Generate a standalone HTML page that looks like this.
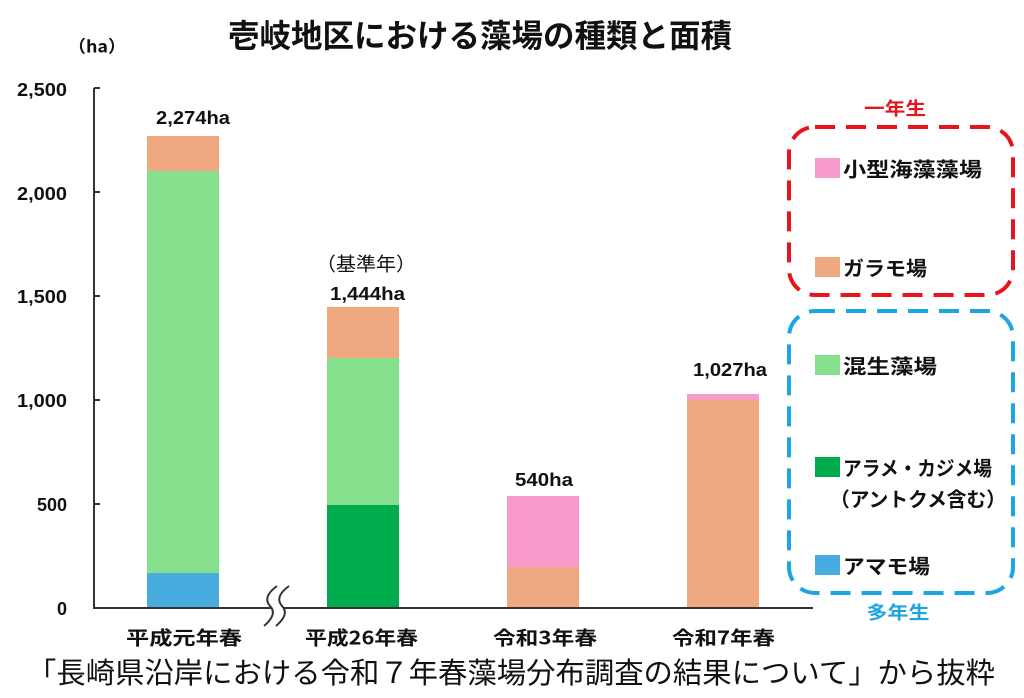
<!DOCTYPE html>
<html><head><meta charset="utf-8"><style>
html,body{margin:0;padding:0;background:#fff;}
svg{display:block;}
text{font-family:"Liberation Sans","Noto Sans CJK JP",sans-serif;}
.jp{font-family:"Noto Sans CJK JP","Liberation Sans",sans-serif;}
</style></head><body>
<svg width="1024" height="698" viewBox="0 0 1024 698" xmlns="http://www.w3.org/2000/svg">
<rect width="1024" height="698" fill="#fff"/>
<!-- title -->
<text class="jp" x="228" y="34" font-size="32" font-weight="700" fill="#111" dominant-baseline="central" textLength="504" lengthAdjust="spacingAndGlyphs">壱岐地区における藻場の種類と面積</text>
<!-- unit -->
<text class="jp" x="68" y="45" font-size="17" font-weight="700" fill="#111" dominant-baseline="central" textLength="58" lengthAdjust="spacingAndGlyphs">（ha）</text>

<!-- bars -->
<g shape-rendering="crispEdges">
<rect x="147" y="573" width="72" height="35" fill="#48ACDF"/>
<rect x="147" y="171" width="72" height="402" fill="#87E08D"/>
<rect x="147" y="136" width="72" height="35" fill="#F0A880"/>

<rect x="327" y="505" width="72" height="103" fill="#00AB4E"/>
<rect x="327" y="358" width="72" height="147" fill="#87E08D"/>
<rect x="327" y="307" width="72" height="51" fill="#F0A880"/>

<rect x="507" y="567" width="72" height="41" fill="#F0A880"/>
<rect x="507" y="496" width="72" height="71" fill="#F79BCB"/>

<rect x="687" y="400" width="72" height="208" fill="#F0A880"/>
<rect x="687" y="394" width="72" height="6" fill="#F79BCB"/>
</g>

<!-- axes -->
<g stroke="#333" stroke-width="2" fill="none">
<line x1="94" y1="88" x2="94" y2="609"/>
<line x1="93" y1="608" x2="813" y2="608"/>
<line x1="94" y1="88" x2="100" y2="88"/>
<line x1="94" y1="192" x2="100" y2="192"/>
<line x1="94" y1="296" x2="100" y2="296"/>
<line x1="94" y1="400" x2="100" y2="400"/>
<line x1="94" y1="504" x2="100" y2="504"/>
</g>
<!-- break mark -->
<path d="M277 586 Q262 597 270 606 Q278 614 264 626 L276 626 Q290 614 282 606 Q274 597 289 586 Z" fill="#fff" stroke="none"/>
<path d="M277 586 Q262 597 270 606 Q278 614 264 626" fill="none" stroke="#333" stroke-width="2"/>
<path d="M289 586 Q274 597 282 606 Q290 614 276 626" fill="none" stroke="#333" stroke-width="2"/>

<!-- y labels -->
<g font-size="18" font-weight="700" fill="#111" text-anchor="end" dominant-baseline="central">
<text x="67" y="90" textLength="50" lengthAdjust="spacingAndGlyphs">2,500</text>
<text x="67" y="194" textLength="50" lengthAdjust="spacingAndGlyphs">2,000</text>
<text x="67" y="297" textLength="50" lengthAdjust="spacingAndGlyphs">1,500</text>
<text x="67" y="401" textLength="50" lengthAdjust="spacingAndGlyphs">1,000</text>
<text x="67" y="505">500</text>
<text x="67" y="609">0</text>
</g>

<!-- value labels -->
<g font-size="18" font-weight="700" fill="#111" dominant-baseline="central">
<text x="156" y="118" textLength="74" lengthAdjust="spacingAndGlyphs">2,274ha</text>
<text x="330" y="294" textLength="75" lengthAdjust="spacingAndGlyphs">1,444ha</text>
<text x="515" y="480" textLength="58" lengthAdjust="spacingAndGlyphs">540ha</text>
<text x="693" y="370" textLength="74" lengthAdjust="spacingAndGlyphs">1,027ha</text>
</g>
<text class="jp" x="316" y="263" font-size="19" fill="#111" dominant-baseline="central" textLength="100" lengthAdjust="spacingAndGlyphs">（基準年）</text>

<!-- x labels -->
<g class="jp" font-size="19" font-weight="700" fill="#111" dominant-baseline="central">
<text class="jp" x="126" y="637" textLength="116" lengthAdjust="spacingAndGlyphs">平成元年春</text>
<text class="jp" x="305" y="637" textLength="113" lengthAdjust="spacingAndGlyphs">平成26年春</text>
<text class="jp" x="493" y="637" textLength="104" lengthAdjust="spacingAndGlyphs">令和3年春</text>
<text class="jp" x="672" y="637" textLength="103" lengthAdjust="spacingAndGlyphs">令和7年春</text>
</g>

<!-- legend boxes -->
<rect x="789" y="127" width="224" height="168" rx="26" ry="26" fill="none" stroke="#E8141B" stroke-width="4" stroke-dasharray="20 11"/>
<rect x="789" y="311" width="224" height="282" rx="26" ry="26" fill="none" stroke="#1BA6E2" stroke-width="4" stroke-dasharray="20 11"/>
<text class="jp" x="895" y="108" font-size="18" font-weight="700" fill="#E8141B" text-anchor="middle" dominant-baseline="central" textLength="62" lengthAdjust="spacingAndGlyphs">一年生</text>
<text class="jp" x="898" y="612" font-size="18" font-weight="700" fill="#1BA6E2" text-anchor="middle" dominant-baseline="central" textLength="63" lengthAdjust="spacingAndGlyphs">多年生</text>

<g shape-rendering="crispEdges">
<rect x="815" y="158" width="25" height="20" fill="#F79BCB"/>
<rect x="815" y="257" width="25" height="20" fill="#F0A880"/>
<rect x="815" y="355" width="25" height="20" fill="#87E08D"/>
<rect x="815" y="457" width="25" height="20" fill="#00AB4E"/>
<rect x="815" y="555" width="25" height="20" fill="#48ACDF"/>
</g>
<g class="jp" font-size="20" font-weight="700" fill="#111" dominant-baseline="central">
<text class="jp" x="843" y="168" textLength="139" lengthAdjust="spacingAndGlyphs">小型海藻藻場</text>
<text class="jp" x="843" y="267" textLength="84" lengthAdjust="spacingAndGlyphs">ガラモ場</text>
<text class="jp" x="843" y="365" textLength="94" lengthAdjust="spacingAndGlyphs">混生藻場</text>
<text class="jp" x="843" y="467" textLength="149" lengthAdjust="spacingAndGlyphs">アラメ・カジメ場</text>
<text class="jp" x="830" y="498" textLength="176" lengthAdjust="spacingAndGlyphs">（アントクメ含む）</text>
<text class="jp" x="843" y="565" textLength="87" lengthAdjust="spacingAndGlyphs">アマモ場</text>
</g>

<!-- footer -->
<text class="jp" x="27" y="671" font-size="29" fill="#111" dominant-baseline="central" textLength="968" lengthAdjust="spacingAndGlyphs">「長崎県沿岸における令和７年春藻場分布調査の結果について」から抜粋</text>
</svg>
</body></html>
